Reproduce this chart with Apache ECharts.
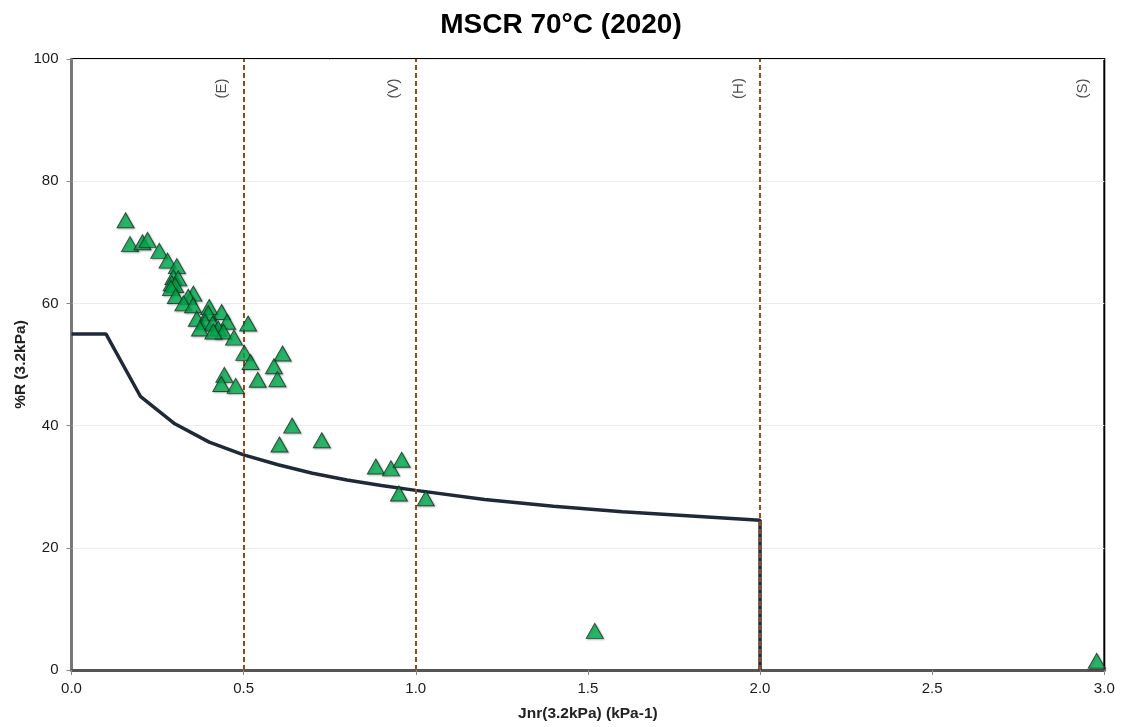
<!DOCTYPE html>
<html>
<head>
<meta charset="utf-8">
<script src="https://cdn.jsdelivr.net/npm/echarts@6/dist/echarts.min.js"></script>
<style>html,body{margin:0;padding:0;background:#fff}#c{width:1122px;height:727px}</style>
</head>
<body>
<div id="c"></div>
<script>
const titleText = 'MSCR 70°C (2020)';
const xAxisName = 'Jnr(3.2kPa) (kPa-1)';
const yAxisName = '%R (3.2kPa)';
const xTicks = [0, 0.5, 1.0, 1.5, 2.0, 2.5, 3.0];
const yTicks = [0, 20, 40, 60, 80, 100];

// Sample points: [Jnr, %R]
const sampleJnr = [0.157,0.170,0.206,0.221,0.255,0.279,0.306,0.296,0.310,0.291,0.301,0.289,0.303,0.354,0.339,0.325,0.353,0.400,0.436,0.364,0.397,0.388,0.410,0.452,0.426,0.441,0.373,0.412,0.472,0.513,0.502,0.520,0.613,0.588,0.444,0.435,0.477,0.541,0.598,0.641,0.604,0.727,0.884,0.928,0.959,0.951,1.029,1.520,2.978];
const sampleR   = [73.6,69.7,70.0,70.4,68.6,67.0,66.1,64.3,64.1,63.3,63.0,62.5,61.2,61.6,61.1,60.0,59.7,59.4,58.6,57.5,58.4,57.0,56.7,57.0,55.9,55.4,55.9,55.4,54.4,56.7,51.9,50.4,51.8,49.7,48.3,46.8,46.5,47.5,47.6,40.0,36.9,37.6,33.3,33.0,34.4,28.9,28.1,6.4,1.5];

// Specification curve
const curveJnr = [0, 0.1, 0.2, 0.3, 0.4, 0.5, 0.6, 0.7, 0.8, 0.9, 1.0, 1.2, 1.4, 1.6, 1.8, 2.0, 2.0];
const curveR   = [55, 55, 44.8, 40.3, 37.3, 35.2, 33.6, 32.2, 31.1, 30.2, 29.4, 27.9, 26.8, 25.9, 25.2, 24.5, 0];

// Traffic grade limits
const limitX = [0.5, 1.0, 2.0];
const gradeX = [0.5, 1.0, 2.0, 3.0];
const gradeLabels = ['(E)', '(V)', '(H)', '(S)'];

const FONT = '"Liberation Sans", Arial, sans-serif';
const chart = echarts.init(document.getElementById('c'), null, {renderer: 'canvas'});

const samples = sampleJnr.map((x, i) => [x, sampleR[i]]);
const curve = curveJnr.map((x, i) => [x, curveR[i]]);
const grades = gradeX.map((x, i) => ({value: [x, 100], name: gradeLabels[i]}));

chart.setOption({
  animation: false,
  backgroundColor: '#ffffff',
  title: {
    text: titleText, left: 'center', top: 6,
    textStyle: {fontFamily: FONT, fontSize: 28, fontWeight: 'bold', color: '#000'}
  },
  grid: {left: 71.5, right: 17.7, top: 59, bottom: 56.8, show: true, borderColor: '#000', borderWidth: 2, backgroundColor: 'transparent'},
  xAxis: {
    type: 'value', min: 0, max: 3, interval: 0.5,
    name: xAxisName, nameLocation: 'middle', nameGap: 36,
    nameTextStyle: {fontFamily: FONT, fontSize: 15.5, fontWeight: 'bold', color: '#222'},
    axisLine: {show: true, onZero: false, lineStyle: {color: '#555', width: 3}},
    axisTick: {show: true, length: 5, lineStyle: {color: '#888'}},
    axisLabel: {fontFamily: FONT, fontSize: 15, color: '#1a1a1a', margin: 11, formatter: v => v.toFixed(1)},
    splitLine: {show: false}
  },
  yAxis: {
    type: 'value', min: 0, max: 100, interval: 20,
    name: yAxisName, nameLocation: 'middle', nameGap: 43, nameRotate: 90,
    nameMoveOverlap: false,
    nameTextStyle: {fontFamily: FONT, fontSize: 15.5, fontWeight: 'bold', color: '#222'},
    axisLine: {show: true, onZero: false, lineStyle: {color: '#777', width: 2.5}},
    axisTick: {show: true, length: 5, lineStyle: {color: '#888'}},
    axisLabel: {fontFamily: FONT, fontSize: 15, color: '#1a1a1a', margin: 13},
    splitLine: {show: true, lineStyle: {color: '#ececec', width: 1}}
  },
  series: [
    {
      type: 'line', data: curve, showSymbol: false, symbol: 'none',
      lineStyle: {color: '#1f2a38', width: 3.5}, z: 3,
      markLine: {
        silent: true, symbol: 'none', z: 4,
        lineStyle: {color: '#9a4a18', type: [5, 3], width: 2},
        label: {show: false},
        data: limitX.map(x => ({xAxis: x}))
      }
    },
    {
      type: 'scatter', data: samples, symbol: 'triangle', symbolSize: [17, 15],
      itemStyle: {color: '#00b050', borderColor: '#163020', borderWidth: 1,
                  shadowColor: 'rgba(0,0,0,0.3)', shadowBlur: 2, shadowOffsetX: 1, shadowOffsetY: 1},
      z: 5
    },
    {
      type: 'scatter', data: grades, symbolSize: 0, silent: true, z: 6,
      label: {show: true, formatter: p => p.name, rotate: 90, offset: [-29.5, -21.5],
              fontFamily: FONT, fontSize: 15, color: '#222', position: 'inside'}
    }
  ]
});
</script>
</body>
</html>
